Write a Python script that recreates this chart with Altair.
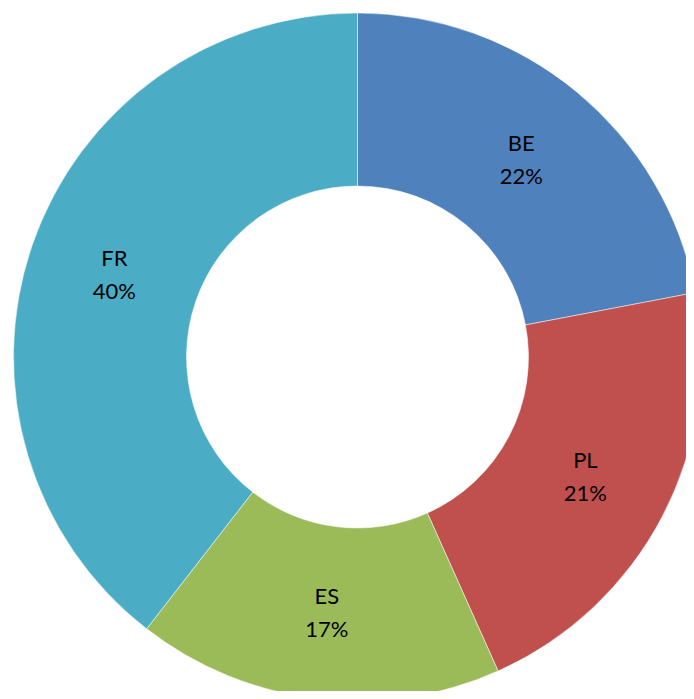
import altair as alt
import pandas as pd

countries = ["BE", "PL", "ES", "FR"]
shares = [22.0, 21.3, 17.2, 39.5]
pct_labels = ["22%", "21%", "17%", "40%"]
colors = ["#4F81BD", "#C0504D", "#9BBB59", "#4BACC6"]

df = pd.DataFrame({
    "country": countries,
    "share": shares,
    "pct": pct_labels,
    "idx": list(range(len(countries))),
})

CX, CY = 349.5, 349
base = alt.Chart(df).encode(
    theta=alt.Theta("share:Q", stack=True),
    order=alt.Order("idx:Q"),
)

arcs = base.mark_arc(
    outerRadius=344, innerRadius=171, x=CX, y=CY,
    stroke="white", strokeWidth=0.5,
).encode(
    color=alt.Color("country:N", scale=alt.Scale(domain=countries, range=colors), legend=None)
)

font = "Lato"
t1 = base.mark_text(radius=257, x=CX, y=CY, dy=-8, baseline="alphabetic",
                    font=font, fontSize=22, color="black").encode(text="country:N")
t2 = base.mark_text(radius=257, x=CX, y=CY, dy=25, baseline="alphabetic",
                    font=font, fontSize=22, color="black").encode(text="pct:N")

chart = alt.layer(arcs, t1, t2).properties(
    width=678, height=683, autosize=alt.AutoSizeParams(type="none"), padding=0,
).configure_view(stroke=None)

chart.save("out.html", embed_options={"renderer": "svg", "actions": False})
